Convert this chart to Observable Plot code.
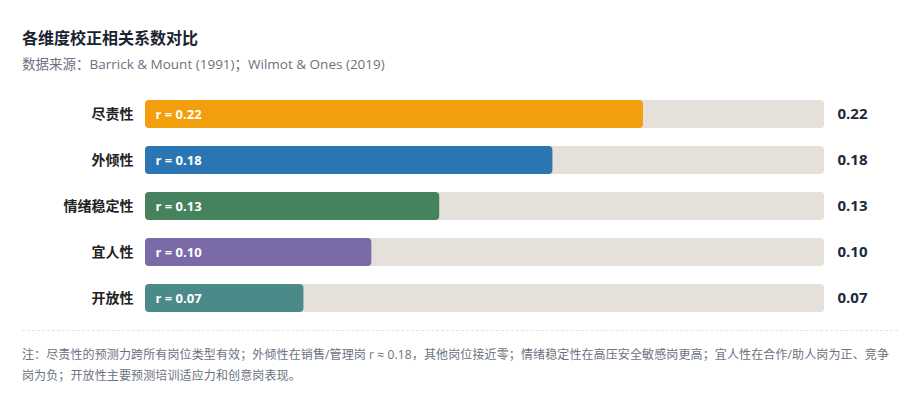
<!DOCTYPE html>
<html>
<head>
<meta charset="utf-8">
<script src="https://cdn.jsdelivr.net/npm/d3@7"></script>
<script src="https://cdn.jsdelivr.net/npm/@observablehq/plot@0.6"></script>
<style>
  html, body { margin: 0; padding: 0; background: #fff; }
  body { font-family: "Open Sans", "Noto Sans CJK SC", sans-serif; width: 920px; height: 404px; overflow: hidden; }
  #wrap { position: relative; padding: 0 22px; width: 876px; }
  #title { margin: 0; padding-top: 26px; height: 24px; line-height: 24px; font-size: 16px; font-weight: 700; color: #1a2332; }
  #subtitle { margin-top: 4px; height: 20px; line-height: 20px; font-size: 13.5px; color: #6b7280; }
  #chart { margin-top: 12px; height: 240px; }
  #chart svg { display: block; }
  #divider { margin-top: 4px; border-top: 1px dashed #e3e5e8; }
  #note { margin-top: 13px; font-size: 12px; letter-spacing: 0.12px; line-height: 21px; color: #6b7280; }
</style>
</head>
<body>
<div id="wrap">
  <div id="title">各维度校正相关系数对比</div>
  <div id="subtitle">数据来源：Barrick &amp; Mount (1991)；Wilmot &amp; Ones (2019)</div>
  <div id="chart"></div>
  <div id="divider"></div>
  <div id="note">注：尽责性的预测力跨所有岗位类型有效；外倾性在销售/管理岗 r ≈ 0.18，其他岗位接近零；情绪稳定性在高压安全敏感岗更高；宜人性在合作/助人岗为正、竞争岗为负；开放性主要预测培训适应力和创意岗表现。</div>
</div>
<script>
const dimensions = ["尽责性", "外倾性", "情绪稳定性", "宜人性", "开放性"];
const rValues = [0.22, 0.18, 0.13, 0.10, 0.07];
const barColors = ["#f39e0d", "#2a76b4", "#47825e", "#7a6aa8", "#4a8b89"];
const xMax = 0.3;

const data = dimensions.map((d, i) => ({dim: d, r: rValues[i], color: barColors[i]}));

const chart = Plot.plot({
  width: 876,
  height: 240,
  marginLeft: 123,
  marginRight: 74,
  marginTop: 5,
  marginBottom: 5,
  style: {fontFamily: '"Open Sans", "Noto Sans CJK SC", sans-serif', color: "#222", background: "transparent"},
  x: {domain: [0, xMax], axis: null},
  y: {domain: dimensions, paddingInner: 0.3913, paddingOuter: 0.1957, align: 0.5, round: false, label: null},
  marks: [
    Plot.axisY({tickSize: 0, tickPadding: 12, fontSize: 14, fontWeight: "bold", fill: "#222"}),
    Plot.barX(data, {y: "dim", x1: 0, x2: xMax, fill: "#e5e0d9", rx: 4}),
    Plot.barX(data, {y: "dim", x1: 0, x2: "r", fill: "color", rx: 4}),
    Plot.text(data, {y: "dim", x: 0, dx: 10, text: d => `r = ${d.r.toFixed(2)}`, textAnchor: "start", fill: "#fff", fontSize: 13, fontWeight: "bold"}),
    Plot.text(data, {y: "dim", x: xMax, dx: 13, text: d => d.r.toFixed(2), textAnchor: "start", fill: "#1b2a3b", fontSize: 15, fontWeight: "bold"})
  ]
});
document.getElementById("chart").append(chart);
</script>
</body>
</html>
